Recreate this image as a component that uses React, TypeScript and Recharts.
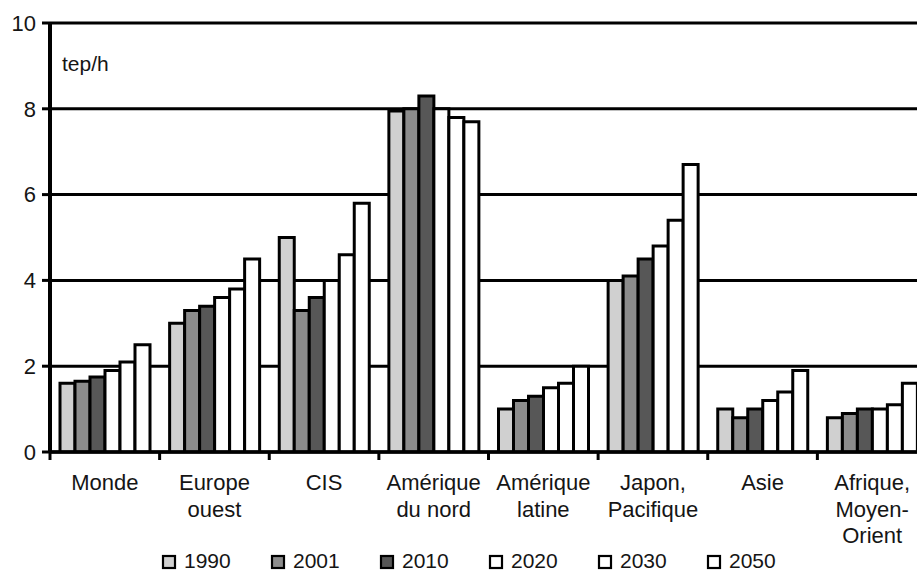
import React from "react";
import { BarChart, Bar, XAxis, YAxis, CartesianGrid, Legend, Customized } from "recharts";

const categories = ["Monde", "Europe ouest", "CIS", "Amérique du nord", "Amérique latine", "Japon, Pacifique", "Asie", "Afrique, Moyen-Orient"];
const categoryLines = [
  ["Monde"],
  ["Europe", "ouest"],
  ["CIS"],
  ["Amérique", "du nord"],
  ["Amérique", "latine"],
  ["Japon,", "Pacifique"],
  ["Asie"],
  ["Afrique,", "Moyen-", "Orient"],
];
const v1990 = [1.6, 3.0, 5.0, 7.95, 1.0, 4.0, 1.0, 0.8];
const v2001 = [1.65, 3.3, 3.3, 8.0, 1.2, 4.1, 0.8, 0.9];
const v2010 = [1.75, 3.4, 3.6, 8.3, 1.3, 4.5, 1.0, 1.0];
const v2020 = [1.9, 3.6, 4.0, 8.0, 1.5, 4.8, 1.2, 1.0];
const v2030 = [2.1, 3.8, 4.6, 7.8, 1.6, 5.4, 1.4, 1.1];
const v2050 = [2.5, 4.5, 5.8, 7.7, 2.0, 6.7, 1.9, 1.6];
const seriesNames = ["1990", "2001", "2010", "2020", "2030", "2050"];
const seriesValues = [v1990, v2001, v2010, v2020, v2030, v2050];
const seriesColors = ["#d0d0d0", "#8c8c8c", "#575757", "#ffffff", "#ffffff", "#ffffff"];
const yTicks = [0, 2, 4, 6, 8, 10];
const unitLabel = "tep/h";

const data = categories.map((c, i) => {
  const row: any = { name: c, idx: i };
  seriesNames.forEach((s, k) => (row[s] = seriesValues[k][i]));
  return row;
});

const W = 940;
const H = 573;
const MARGIN = { top: 23, right: 13, bottom: 0, left: 0 };
const YW = 50;
const FONT = "'Liberation Sans', Arial, Helvetica, sans-serif";
const FS = 22;
const TXT = "#151515";
const BAND = (W - MARGIN.left - MARGIN.right - YW) / categories.length;

const XTick = (props: any) => {
  const { x, y, payload } = props;
  const lines = categoryLines[payload.index] || [String(payload.value)];
  const half = BAND / 2;
  return (
    <g>
      <line x1={x - half} x2={x - half} y1={y - 8} y2={y} stroke="#000" strokeWidth={3} />
      <text x={x} y={y + 30} textAnchor="middle" fontFamily={FONT} fontSize={FS} fill={TXT}>
        {lines.map((l, i) => (
          <tspan key={i} x={x} dy={i === 0 ? 0 : 26.5}>
            {l}
          </tspan>
        ))}
      </text>
    </g>
  );
};

const LegendContent = () => (
  <svg width={W} height={24} style={{ display: "block", overflow: "visible" }}>
    {seriesNames.map((s, i) => {
      const bx = 163 + i * 109;
      return (
        <g key={s}>
          <rect x={bx} y={8} width={12} height={12} fill={seriesColors[i]} stroke="#000" strokeWidth={2.2} />
          <text x={bx + 21} y={20} fontFamily={FONT} fontSize={FS - 1} fill={TXT}>
            {s}
          </text>
        </g>
      );
    })}
  </svg>
);

const UnitLabel = () => (
  <text x={62} y={71} fontFamily={FONT} fontSize={FS - 1} fill={TXT}>
    {unitLabel}
  </text>
);

export default function App() {
  return (
    <div style={{ position: "absolute", left: 0, top: 0, width: 917, height: 573, overflow: "hidden", background: "#fff" }}>
      <BarChart width={W} height={H} data={data} margin={MARGIN} barCategoryGap={10} barGap={0}>
        <CartesianGrid vertical={false} stroke="#000" strokeWidth={3} />
        <XAxis
          dataKey="name"
          height={H - 452}
          axisLine={{ stroke: "#000", strokeWidth: 3.5 }}
          tickLine={false}
          tickSize={8}
          tickMargin={0}
          tick={<XTick />}
          interval={0}
        />
        <YAxis
          width={YW}
          domain={[0, 10]}
          ticks={yTicks}
          axisLine={{ stroke: "#000", strokeWidth: 4 }}
          tickLine={{ stroke: "#000", strokeWidth: 3 }}
          tickSize={8}
          tickMargin={6}
          tick={{ fontFamily: FONT, fontSize: FS, fill: TXT }}
          allowDataOverflow
        />
        {seriesNames.map((s, i) => (
          <Bar key={s} dataKey={s} fill={seriesColors[i]} stroke="#000" strokeWidth={3} isAnimationActive={false} />
        ))}
        <Legend
          layout="horizontal"
          verticalAlign="middle"
          align="center"
          content={<LegendContent />}
          wrapperStyle={{ position: "absolute", top: 548, left: 0, width: W, height: 24 }}
        />
        <Customized component={UnitLabel} />
      </BarChart>
    </div>
  );
}
